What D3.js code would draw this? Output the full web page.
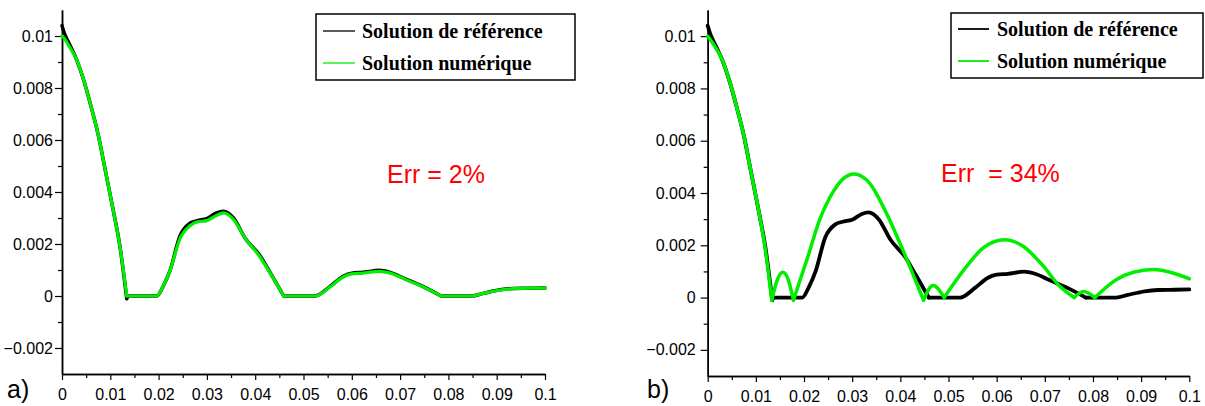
<!DOCTYPE html>
<html>
<head>
<meta charset="utf-8">
<script src="https://cdn.jsdelivr.net/npm/d3@7"></script>
<style>
  html, body { margin: 0; padding: 0; background: #fff; }
  svg { display: block; }
</style>
</head>
<body>
<svg id="chart" width="1205" height="406"></svg>
<script>
// ---------------- data ----------------
const xTicks = [0, 0.01, 0.02, 0.03, 0.04, 0.05, 0.06, 0.07, 0.08, 0.09, 0.1];
const xTickLabels = ["0", "0.01", "0.02", "0.03", "0.04", "0.05", "0.06", "0.07", "0.08", "0.09", "0.1"];
const xMinorTicks = [0.005, 0.015, 0.025, 0.035, 0.045, 0.055, 0.065, 0.075, 0.085, 0.095];
const yTicks = [-0.002, 0, 0.002, 0.004, 0.006, 0.008, 0.01];
const yTickLabels = ["\u22120.002", "0", "0.002", "0.004", "0.006", "0.008", "0.01"];
const yMinorTicks = [-0.001, 0.001, 0.003, 0.005, 0.007, 0.009];

const seriesNames = ["Solution de r\u00e9f\u00e9rence", "Solution num\u00e9rique"];
const panelLabels = ["a)", "b)"];
const errLabels = ["Err = 2%", "Err  = 34%"];

// reference solution (same in both panels)
const refX = [0, 0.0005, 0.0015, 0.003, 0.0045, 0.006, 0.0075, 0.009, 0.0105, 0.012, 0.0134, 0.0137, 0.016, 0.0196,
  0.021, 0.0224, 0.0244, 0.0265, 0.028, 0.030, 0.032, 0.0334, 0.0355, 0.038, 0.041, 0.0431, 0.0459, 0.049, 0.0524,
  0.0555, 0.0582, 0.060, 0.0623, 0.0657, 0.0678, 0.0713, 0.0747, 0.0785, 0.082, 0.0848, 0.0872, 0.0907, 0.0934, 0.097, 0.1];
const refY = [0.0104, 0.0101, 0.0097, 0.0091, 0.0083, 0.0073, 0.0062, 0.0048, 0.0034, 0.0019, -0.0001, 0, 0, 0,
  0.0004, 0.0010, 0.0023, 0.0028, 0.0029, 0.00298, 0.0032, 0.00326, 0.0030, 0.0022, 0.00155, 0.0009, 0, 0, 0,
  0.00037, 0.00076, 0.00088, 0.00091, 0.00099, 0.00092, 0.00064, 0.00037, 0, 0, 0, 0.0001, 0.00024, 0.00029, 0.0003, 0.00031];

// numerical solution, panel a (Err = 2%)
const numAX = refX;
const numAY = [0.0100, 0.0099, 0.0096, 0.0091, 0.0083, 0.0073, 0.0062, 0.0048, 0.0034, 0.0019, 0, 0, 0, 0,
  0.0004, 0.0010, 0.0022, 0.0027, 0.00285, 0.0029, 0.0031, 0.0032, 0.00295, 0.0022, 0.0015, 0.00088, 0, 0, 0,
  0.00035, 0.00073, 0.00085, 0.00088, 0.00095, 0.00089, 0.00062, 0.00036, 0, 0, 0, 0.0001, 0.00023, 0.00028, 0.0003, 0.0003];

// numerical solution, panel b (Err = 34%)
const numBX = [0, 0.0015, 0.003, 0.0045, 0.006, 0.0075, 0.009, 0.0105, 0.012, 0.0133, 0.0145, 0.0156, 0.0167, 0.0178,
  0.0206, 0.0233, 0.0261, 0.0281, 0.0304, 0.0336, 0.0371, 0.0405, 0.0448, 0.0468, 0.0491, 0.0538, 0.0572, 0.0617,
  0.0655, 0.0697, 0.0731, 0.0761, 0.0780, 0.0804, 0.0849, 0.0884, 0.0925, 0.0966, 0.1];
const numBY = [0.0100, 0.0096, 0.0091, 0.0083, 0.0073, 0.0062, 0.0048, 0.0034, 0.0018, -0.0001, 0.0007, 0.00097, 0.0007, -0.0001,
  0.00145, 0.0030, 0.00406, 0.00454, 0.00473, 0.00438, 0.00323, 0.00183, -0.0001, 0.00046, 0, 0.0012, 0.0019, 0.00221,
  0.00196, 0.0012, 0.00043, 0, 0.00023, 0, 0.00069, 0.00097, 0.00107, 0.00094, 0.00072];

// ---------------- layout ----------------
const svg = d3.select("#chart");
const panels = [
  { left: 62, right: 545, top: 10, bottom: 374, yPad: 2, labelX: 7,
    ref: [refX, refY], num: [numAX, numAY], lw: 3.5,
    legend: { x: 316, y: 14, w: 259, h: 66, lineX1: 323, lineX2: 355, textX: 362, row1: 31, row2: 63, lw: 1.3 },
    err: { x: 387, y: 183, text: errLabels[0] }, label: panelLabels[0] },
  { left: 707.7, right: 1189.3, top: 10, bottom: 376, yPad: 5, labelX: 647,
    ref: [refX, refY], num: [numBX, numBY], lw: 3.8,
    legend: { x: 951, y: 13, w: 252, h: 65, lineX1: 958, lineX2: 989, textX: 997, row1: 29, row2: 61, lw: 1.8 },
    err: { x: 941, y: 182, text: errLabels[1] }, label: panelLabels[1] }
];

const yDomain = [-0.003, 0.011];
const xDomain = [0, 0.1];

// split a polyline at the points where it touches bottom (sharp corners in the original)
function splitAtCorners(pts) {
  const segs = [];
  let cur = [pts[0]];
  for (let i = 1; i < pts.length; i++) {
    cur.push(pts[i]);
    if (i < pts.length - 1 && pts[i][1] <= 0.00005 && pts[i - 1][1] > pts[i][1] + 0.0002) {
      segs.push(cur);
      cur = [pts[i]];
    }
  }
  segs.push(cur);
  return segs;
}

panels.forEach(p => {
  const x = d3.scaleLinear().domain(xDomain).range([p.left, p.right]);
  const y = d3.scaleLinear().domain(yDomain).range([p.bottom, p.top]);
  const g = svg.append("g");

  // axes
  const yMaj = d3.axisLeft(y).tickValues(yTicks).tickFormat((d, i) => yTickLabels[i])
    .tickSizeInner(7).tickSizeOuter(0).tickPadding(p.yPad);
  const yMin = d3.axisLeft(y).tickValues(yMinorTicks).tickFormat("").tickSizeInner(4).tickSizeOuter(0);
  const xMaj = d3.axisBottom(x).tickValues(xTicks).tickFormat((d, i) => xTickLabels[i])
    .tickSizeInner(6).tickSizeOuter(0).tickPadding(9);
  const xMin = d3.axisBottom(x).tickValues(xMinorTicks).tickFormat("").tickSizeInner(4).tickSizeOuter(0);

  [[yMin, "y"], [yMaj, "y"], [xMin, "x"], [xMaj, "x"]].forEach(([ax, kind]) => {
    const a = g.append("g")
      .attr("transform", kind === "y" ? `translate(${p.left},0)` : `translate(0,${p.bottom})`)
      .call(ax);
    a.selectAll("path.domain").attr("stroke", "#000").attr("stroke-width", 1.5);
    a.selectAll(".tick line").attr("stroke", "#000").attr("stroke-width", 1.2);
    a.selectAll(".tick text").attr("font-family", "Liberation Sans, Arial, sans-serif")
      .attr("font-size", 16).attr("fill", "#000");
  });

  const line = d3.line().x(d => x(d[0])).y(d => y(d[1])).curve(d3.curveMonotoneX);

  const refPts = p.ref[0].map((v, i) => [v, p.ref[1][i]]);
  splitAtCorners(refPts).forEach(seg => {
    g.append("path").attr("d", line(seg)).attr("fill", "none").attr("stroke", "#000")
      .attr("stroke-width", p.lw).attr("stroke-linejoin", "round").attr("stroke-linecap", "round");
  });

  const numPts = p.num[0].map((v, i) => [v, p.num[1][i]]);
  splitAtCorners(numPts).forEach(seg => {
    g.append("path").attr("d", line(seg)).attr("fill", "none").attr("stroke", "#00ee00")
      .attr("stroke-width", p.lw - 0.3).attr("stroke-linejoin", "round").attr("stroke-linecap", "round");
  });

  // legend
  const L = p.legend;
  g.append("rect").attr("x", L.x).attr("y", L.y).attr("width", L.w).attr("height", L.h)
    .attr("fill", "#fff").attr("stroke", "#000").attr("stroke-width", 1.5);
  [["#000", L.row1, seriesNames[0]], ["#00ee00", L.row2, seriesNames[1]]].forEach(([c, ry, t]) => {
    g.append("line").attr("x1", L.lineX1).attr("x2", L.lineX2).attr("y1", ry).attr("y2", ry)
      .attr("stroke", c).attr("stroke-width", L.lw);
    g.append("text").attr("x", L.textX).attr("y", ry).attr("dy", "0.33em")
      .attr("font-family", "Liberation Serif, Times New Roman, serif").attr("font-weight", "bold")
      .attr("font-size", 20).attr("fill", "#000").text(t);
  });

  // error label
  g.append("text").attr("x", p.err.x).attr("y", p.err.y)
    .attr("font-family", "Liberation Sans, Arial, sans-serif").attr("font-size", 25)
    .attr("fill", "#ff0000").style("white-space", "pre").text(p.err.text);

  // panel label
  g.append("text").attr("x", p.labelX).attr("y", 398)
    .attr("font-family", "Liberation Sans, Arial, sans-serif").attr("font-size", 25)
    .attr("fill", "#000").text(p.label);
});
</script>
</body>
</html>
